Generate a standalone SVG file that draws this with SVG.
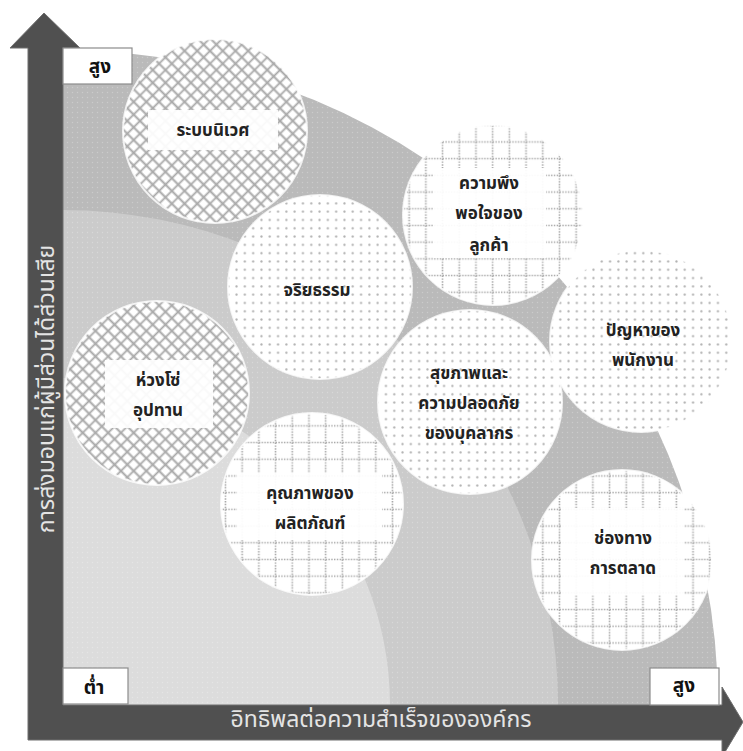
<svg xmlns="http://www.w3.org/2000/svg" width="743" height="751" viewBox="0 0 743 751">
<defs>
<style>
.lbl{font-family:"Noto Sans Thai","Loma","Garuda","Tlwg Typo","DejaVu Sans",sans-serif;font-size:17px;font-weight:bold;fill:#222;text-anchor:middle}
.ax{font-family:"Noto Sans Thai","Loma","Garuda","DejaVu Sans",sans-serif;font-size:23px;fill:#e4e4e4;text-anchor:middle}
.box{fill:#fff;stroke:#8c8c8c;stroke-width:1.2}
.bt{font-family:"Noto Sans Thai","Loma","Garuda","DejaVu Sans",sans-serif;font-size:19px;font-weight:bold;fill:#111;text-anchor:middle}
.clr{fill:#fff;fill-opacity:0.93}
.rim{stroke:#fff;stroke-width:2;stroke-opacity:0.8}
</style>
<pattern id="cross" width="9" height="9" patternUnits="userSpaceOnUse" patternTransform="rotate(45)">
<rect width="9" height="9" fill="#fff"/>
<path d="M0,4.5H9M4.5,0V9" stroke="#a8a8a8" stroke-width="1.8"/>
</pattern>
<pattern id="dots" width="8.3" height="8.3" patternUnits="userSpaceOnUse">
<rect width="8.3" height="8.3" fill="#fff"/>
<circle cx="4.15" cy="4.15" r="1.1" fill="#b0b0b0"/>
</pattern>
<pattern id="grid" width="16.7" height="16.7" patternUnits="userSpaceOnUse">
<rect width="16.7" height="16.7" fill="#fff"/>
<path d="M0,8.35H16.7M8.35,0V16.7" stroke="#a6a6a6" stroke-width="1.6" stroke-dasharray="1.4 1.4"/>
</pattern>
<pattern id="tex" width="5" height="5" patternUnits="userSpaceOnUse">
<circle cx="2.5" cy="2.5" r="0.7" fill="#fff" fill-opacity="0.25"/>
</pattern>
</defs>

<g id="background">
<path d="M63,705 L63,50 A655,655 0 0 1 718,705 Z" fill="#bababa"/>
<path d="M63,705 L63,210 A495,495 0 0 1 558,705 Z" fill="#cbcbcb"/>
<path d="M63,705 L63,378 A327,327 0 0 1 390,705 Z" fill="#dcdcdc"/>
<path d="M63,705 L63,50 A655,655 0 0 1 718,705 Z" fill="url(#tex)"/>
</g>

<g id="connectors">
<path d="M28,48 L10,48 L44,13 L80,48 L63,48 L63,705 L722,705 L722,687 L743,722 L722,757 L722,740 L28,740 Z" fill="#505050" stroke="#6e6e6e" stroke-width="1"/>
</g>

<g id="axis-y">
<text class="ax" transform="translate(54,389) rotate(-90)">การส่งมอบแก่ผู้มีส่วนได้ส่วนเสีย</text>
</g>
<g id="axis-x">
<text class="ax" x="381" y="727">อิทธิพลต่อความสำเร็จขององค์กร</text>
</g>

<g id="label-high-y">
<rect class="box" x="63" y="48" width="69" height="36"/>
<text class="bt" x="100" y="73">สูง</text>
</g>
<g id="label-low">
<rect class="box" x="63" y="668" width="65" height="36"/>
<text class="bt" x="94" y="694">ต่ำ</text>
</g>
<g id="label-high-x">
<rect class="box" x="650" y="668" width="69" height="37"/>
<text class="bt" x="684" y="692">สูง</text>
</g>

<g id="node-ecosystem">
<circle class="rim" cx="215" cy="131" r="92" fill="url(#cross)"/>
<rect class="clr" x="148" y="110" width="130" height="40"/>
<text class="lbl" x="213" y="136">ระบบนิเวศ</text>
</g>

<g id="node-ethics">
<circle class="rim" cx="320" cy="287" r="92" fill="url(#dots)"/>
<text class="lbl" x="317" y="296">จริยธรรม</text>
</g>

<g id="node-customer">
<circle class="rim" cx="493" cy="215" r="90" fill="url(#grid)"/>
<rect class="clr" x="433" y="168" width="113" height="90"/>
<text class="lbl" x="489" y="189">ความพึง</text>
<text class="lbl" x="489" y="219">พอใจของ</text>
<text class="lbl" x="489" y="251">ลูกค้า</text>
</g>

<g id="node-employee">
<circle class="rim" cx="641" cy="341" r="91" fill="url(#dots)"/>
<text class="lbl" x="643" y="336">ปัญหาของ</text>
<text class="lbl" x="643" y="366">พนักงาน</text>
</g>

<g id="node-supply">
<circle class="rim" cx="157" cy="393" r="92" fill="url(#cross)"/>
<rect class="clr" x="105" y="360" width="108" height="68"/>
<text class="lbl" x="158" y="386">ห่วงโซ่</text>
<text class="lbl" x="158" y="416">อุปทาน</text>
</g>

<g id="node-health">
<circle class="rim" cx="470" cy="402" r="92" fill="url(#dots)"/>
<text class="lbl" x="469" y="379">สุขภาพและ</text>
<text class="lbl" x="469" y="409">ความปลอดภัย</text>
<text class="lbl" x="469" y="439">ของบุคลากร</text>
</g>

<g id="node-quality">
<circle class="rim" cx="312" cy="504" r="91" fill="url(#grid)"/>
<rect class="clr" x="237" y="473" width="145" height="67"/>
<text class="lbl" x="310" y="499">คุณภาพของ</text>
<text class="lbl" x="310" y="529">ผลิตภัณฑ์</text>
</g>

<g id="node-marketing">
<circle class="rim" cx="622" cy="560" r="90" fill="url(#grid)"/>
<rect class="clr" x="561" y="508" width="123" height="87"/>
<text class="lbl" x="623" y="544">ช่องทาง</text>
<text class="lbl" x="623" y="574">การตลาด</text>
</g>
</svg>
